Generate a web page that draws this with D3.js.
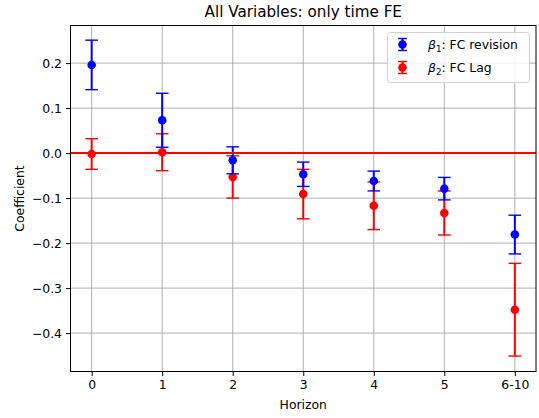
<!DOCTYPE html>
<html><head><meta charset="utf-8">
<script src="https://cdn.jsdelivr.net/npm/d3@7"></script>
<style>body{margin:0;background:#fff;} svg{display:block;font-family:"DejaVu Sans",sans-serif;}</style>
</head><body>
<script>
const categories = ["0","1","2","3","4","5","6-10"];
const beta1Values = [0.196, 0.073, -0.016, -0.047, -0.062, -0.079, -0.181];
const beta1Errors = [0.055, 0.060, 0.030, 0.027, 0.022, 0.025, 0.043];
const beta2Values = [-0.002, 0.002, -0.053, -0.091, -0.117, -0.133, -0.348];
const beta2Errors = [0.034, 0.041, 0.047, 0.055, 0.053, 0.049, 0.103];
const yTicks = [-0.4, -0.3, -0.2, -0.1, 0.0, 0.1, 0.2];

const W = 539, H = 418;
const m = {left: 70.5, top: 25.5, right: 536, bottom: 371.5};
const svg = d3.select("body").append("svg").attr("width", W).attr("height", H);

const x = d3.scaleLinear().domain([-0.3, 6.3]).range([m.left, m.right]);
const y = d3.scaleLinear().domain([-0.4853, 0.2836]).range([m.bottom, m.top]);

// grid
const g = svg.append("g");
g.selectAll(".gx").data(categories).enter().append("line")
  .attr("x1", (d,i)=>x(i)).attr("x2", (d,i)=>x(i))
  .attr("y1", m.top).attr("y2", m.bottom)
  .attr("stroke", "#b0b0b0").attr("stroke-width", 1);
g.selectAll(".gy").data(yTicks).enter().append("line")
  .attr("x1", m.left).attr("x2", m.right)
  .attr("y1", d=>y(d)).attr("y2", d=>y(d))
  .attr("stroke", "#b0b0b0").attr("stroke-width", 1);

function drawSeries(vals, errs, color) {
  const s = svg.append("g");
  const cap = 6.3;
  vals.forEach((v, i) => {
    const cx = x(i), lo = y(v - errs[i]), hi = y(v + errs[i]);
    s.append("line").attr("x1", cx).attr("x2", cx).attr("y1", lo).attr("y2", hi)
      .attr("stroke", color).attr("stroke-width", 2);
    [lo, hi].forEach(yy => s.append("line").attr("x1", cx - cap).attr("x2", cx + cap)
      .attr("y1", yy).attr("y2", yy).attr("stroke", color).attr("stroke-width", 1.4));
    s.append("circle").attr("cx", cx).attr("cy", y(v)).attr("r", 4.3).attr("fill", color);
  });
}
drawSeries(beta2Values, beta2Errors, "#ff0000");
drawSeries(beta1Values, beta1Errors, "#0000ff");

// zero line
svg.append("line").attr("x1", m.left).attr("x2", m.right)
  .attr("y1", y(0)).attr("y2", y(0)).attr("stroke", "#ff0000").attr("stroke-width", 2);

// axes
const xAxis = d3.axisBottom(x).tickValues(d3.range(categories.length))
  .tickFormat(i => categories[i]).tickSize(4.5).tickPadding(4);
const yAxis = d3.axisLeft(y).tickValues(yTicks)
  .tickFormat(d => (d < 0 ? "\u2212" : "") + Math.abs(d).toFixed(1)).tickSize(4.5).tickPadding(4);
const ax = svg.append("g").attr("transform", `translate(0,${m.bottom})`).call(xAxis);
const ay = svg.append("g").attr("transform", `translate(${m.left},0)`).call(yAxis);
[ax, ay].forEach(a => {
  a.select(".domain").remove();
  a.selectAll("text").attr("font-size", 12.4).attr("fill", "#000").attr("font-family", "DejaVu Sans");
  a.selectAll("line").attr("stroke", "#000").attr("stroke-width", 1);
});
svg.append("rect").attr("x", m.left).attr("y", m.top)
  .attr("width", m.right - m.left).attr("height", m.bottom - m.top)
  .attr("fill", "none").attr("stroke", "#000").attr("stroke-width", 1);

// labels
svg.append("text").attr("x", (m.left + m.right)/2).attr("y", 17)
  .attr("text-anchor", "middle").attr("font-size", 15.2).text("All Variables: only time FE");
svg.append("text").attr("x", (m.left + m.right)/2).attr("y", 409)
  .attr("text-anchor", "middle").attr("font-size", 12.4).text("Horizon");
svg.append("text").attr("transform", `translate(23.5,${(m.top + m.bottom)/2}) rotate(-90)`)
  .attr("text-anchor", "middle").attr("font-size", 12.4).text("Coefficient");

// legend
const lg = svg.append("g");
lg.append("rect").attr("x", 387.5).attr("y", 32.5).attr("width", 142).attr("height", 50)
  .attr("rx", 3).attr("fill", "#fff").attr("fill-opacity", 0.8).attr("stroke", "#d0d0d0");
const legendItems = [
  {color: "#0000ff", sub: "1", label: ": FC revision", y: 44.5},
  {color: "#ff0000", sub: "2", label: ": FC Lag", y: 67.5}
];
legendItems.forEach(it => {
  const cx = 402.5;
  lg.append("line").attr("x1", cx).attr("x2", cx).attr("y1", it.y - 6).attr("y2", it.y + 6)
    .attr("stroke", it.color).attr("stroke-width", 2);
  [it.y - 6, it.y + 6].forEach(yy => lg.append("line").attr("x1", cx - 4.5).attr("x2", cx + 4.5)
    .attr("y1", yy).attr("y2", yy).attr("stroke", it.color).attr("stroke-width", 1.4));
  lg.append("circle").attr("cx", cx).attr("cy", it.y).attr("r", 4.3).attr("fill", it.color);
  const t = lg.append("text").attr("x", 428).attr("y", it.y + 4.5).attr("font-size", 12.4);
  t.append("tspan").attr("font-style", "italic").text("\u03b2");
  t.append("tspan").attr("font-size", 8.7).attr("dy", 2.5).text(it.sub);
  t.append("tspan").attr("dy", -2.5).text(it.label);
});
</script>
</body></html>
